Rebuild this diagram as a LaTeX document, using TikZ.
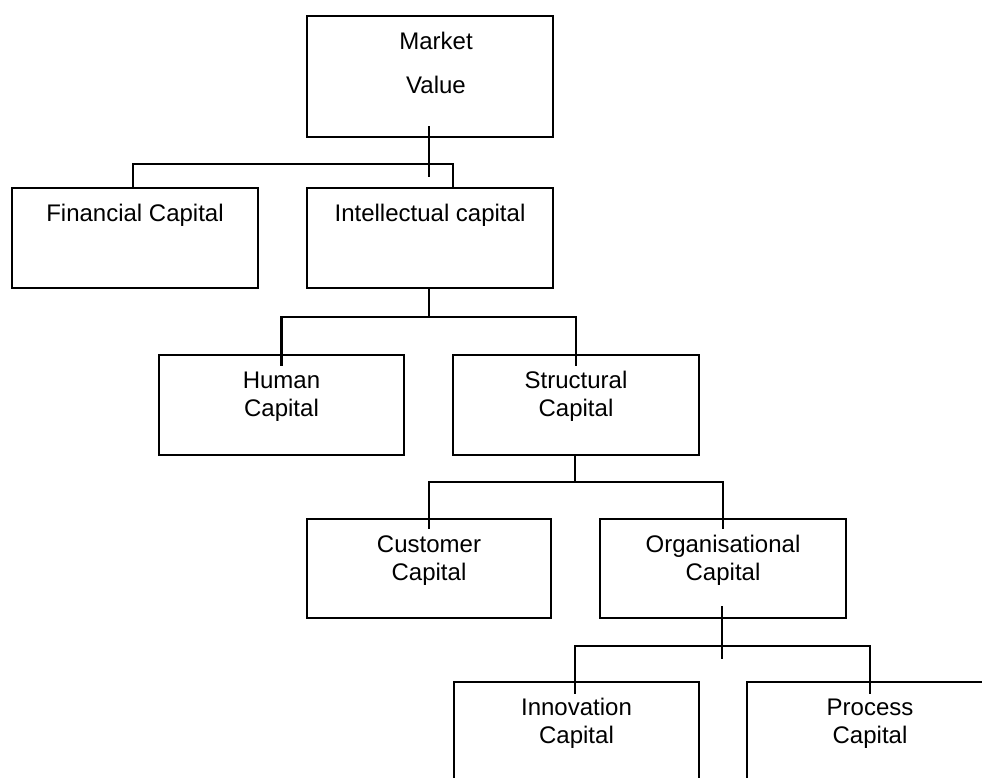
\documentclass[tikz,border=0pt]{standalone}
\usepackage{fontspec}
\setmainfont{Liberation Sans}
\begin{document}
\begin{tikzpicture}[x=1pt,y=-1pt,
  box/.style={draw, line width=2.4pt, minimum width=246pt, minimum height=100pt, inner sep=0pt},
  wire/.style={line width=2.4pt},
  lbl/.style={font=\fontsize{24}{28}\selectfont, inner sep=0pt, anchor=base}]
\useasboundingbox (0,0) rectangle (982,778);
\clip (0,0) rectangle (982,778);

% boxes
\node[box, minimum height=121pt] (mv) at (430,76.5) {};
\node[box] (fin) at (135,238) {};
\node[box] (int) at (430,238) {};
\node[box, minimum width=245pt] (hum) at (281.5,405) {};
\node[box] (str) at (576,405) {};
\node[box, minimum width=244pt, minimum height=99pt] (cus) at (429,568.5) {};
\node[box, minimum height=99pt] (org) at (723,568.5) {};
\node[box, minimum width=245pt] (inn) at (576.5,732) {};
\node[box] (pro) at (870,732) {};

% labels
\node[lbl] (mvA) at ([xshift=6pt,yshift=-35pt]mv.north) {Market};
\node[lbl] (mvB) at ([yshift=-44pt]mvA.base) {Value};
\node[lbl] (finA) at ([yshift=-35pt]fin.north) {Financial Capital};
\node[lbl] (intA) at ([yshift=-35pt]int.north) {Intellectual capital};
\node[lbl] (humA) at ([yshift=-35pt]hum.north) {Human};
\node[lbl] (humB) at ([yshift=-28pt]humA.base) {Capital};
\node[lbl] (strA) at ([yshift=-35pt]str.north) {Structural};
\node[lbl] (strB) at ([yshift=-28pt]strA.base) {Capital};
\node[lbl] (cusA) at ([yshift=-35pt]cus.north) {Customer};
\node[lbl] (cusB) at ([yshift=-28pt]cusA.base) {Capital};
\node[lbl] (orgA) at ([yshift=-35pt]org.north) {Organisational};
\node[lbl] (orgB) at ([yshift=-28pt]orgA.base) {Capital};
\node[lbl] (innA) at ([yshift=-35pt]inn.north) {Innovation};
\node[lbl] (innB) at ([yshift=-28pt]innA.base) {Capital};
\node[lbl] (proA) at ([yshift=-35pt]pro.north) {Process};
\node[lbl] (proB) at ([yshift=-28pt]proA.base) {Capital};

% Market Value -> Financial / Intellectual
\draw[wire] ([xshift=-1pt,yshift=12pt]mv.south) -- ++(0,51);
\path ([xshift=-1pt]mv.south) ++(0,26) coordinate (b1);
\draw[wire] ([xshift=-2pt]fin.north) |- (b1) -| ([xshift=23pt]int.north);

% Intellectual -> Human / Structural
\draw[wire] ([xshift=-1pt]int.south) -- ++(0,28) coordinate (b2);
\draw[wire] ([yshift=-12pt]hum.north) |- (b2) -| ([yshift=-12pt]str.north);

% Structural -> Customer / Organisational
\draw[wire] ([xshift=-1pt]str.south) -- ++(0,26) coordinate (b3);
\draw[wire] ([yshift=-11pt]cus.north) |- (b3) -| ([yshift=-11pt]org.north);

% Organisational -> Innovation / Process
\draw[wire] ([xshift=-1pt,yshift=13pt]org.south) -- ++(0,53);
\path ([xshift=-1pt]org.south) ++(0,27) coordinate (b4);
\draw[wire] ([xshift=-1.5pt,yshift=-13pt]inn.north) |- (b4) -| ([yshift=-13pt]pro.north);
\end{tikzpicture}
\end{document}
